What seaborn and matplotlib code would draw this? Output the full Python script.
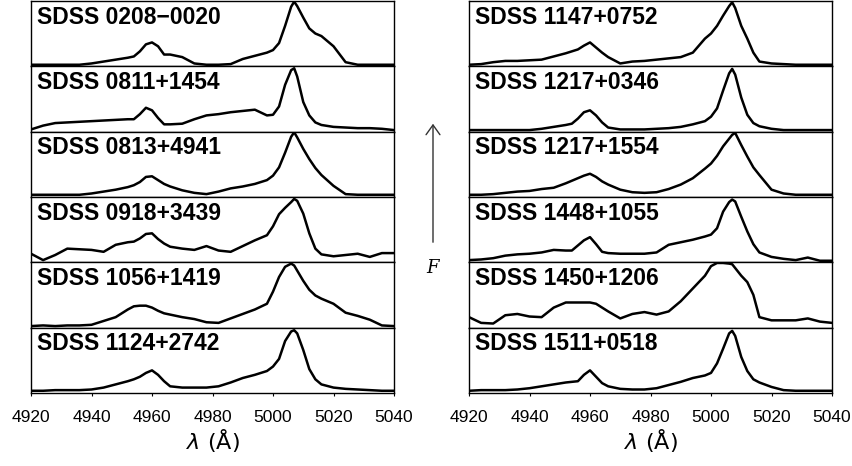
import pandas as pd
import matplotlib
matplotlib.use('Agg')
from matplotlib import pyplot as plt
from matplotlib.patches import FancyArrowPatch
import seaborn as sns

# shared wavelength grid (Angstrom)
wavelength = [4920, 4924, 4928, 4932, 4936, 4940, 4944, 4948, 4952, 4954,
              4956, 4958, 4960, 4962, 4964, 4966, 4970, 4974, 4978, 4982,
              4986, 4990, 4994, 4998, 5000, 5002, 5004, 5006, 5007, 5008,
              5010, 5012, 5014, 5016, 5020, 5024, 5028, 5032, 5036, 5040]

names_left = ["SDSS 0208\u22120020", "SDSS 0811+1454", "SDSS 0813+4941",
              "SDSS 0918+3439", "SDSS 1056+1419", "SDSS 1124+2742"]
names_right = ["SDSS 1147+0752", "SDSS 1217+0346", "SDSS 1217+1554",
               "SDSS 1448+1055", "SDSS 1450+1206", "SDSS 1511+0518"]

# normalised flux, one list per object
flux_0208 = [0.01, 0.01, 0.01, 0.01, 0.01, 0.03, 0.06, 0.09, 0.12, 0.14,
             0.22, 0.33, 0.36, 0.30, 0.17, 0.17, 0.13, 0.03, 0.01, 0.01,
             0.02, 0.10, 0.15, 0.20, 0.24, 0.35, 0.62, 0.92, 1.00, 0.93,
             0.75, 0.58, 0.50, 0.46, 0.30, 0.05, 0.01, 0.01, 0.01, 0.01]
flux_0811 = [0.02, 0.08, 0.12, 0.13, 0.14, 0.15, 0.16, 0.17, 0.18, 0.18,
             0.26, 0.36, 0.32, 0.20, 0.10, 0.10, 0.11, 0.18, 0.24, 0.26,
             0.29, 0.31, 0.33, 0.24, 0.25, 0.38, 0.72, 0.95, 0.98, 0.85,
             0.45, 0.24, 0.13, 0.09, 0.06, 0.05, 0.04, 0.04, 0.03, 0.01]
flux_0813 = [0.02, 0.02, 0.02, 0.02, 0.02, 0.04, 0.07, 0.10, 0.14, 0.17,
             0.22, 0.30, 0.31, 0.25, 0.19, 0.15, 0.09, 0.05, 0.03, 0.07,
             0.12, 0.15, 0.19, 0.25, 0.32, 0.45, 0.68, 0.93, 1.00, 0.92,
             0.74, 0.58, 0.44, 0.33, 0.16, 0.03, 0.02, 0.02, 0.02, 0.02]
flux_0918 = [0.12, 0.02, 0.10, 0.20, 0.19, 0.18, 0.15, 0.26, 0.30, 0.31,
             0.36, 0.43, 0.44, 0.35, 0.28, 0.23, 0.20, 0.18, 0.24, 0.17,
             0.15, 0.24, 0.33, 0.41, 0.55, 0.74, 0.84, 0.93, 0.98, 0.95,
             0.75, 0.44, 0.20, 0.11, 0.08, 0.10, 0.12, 0.07, 0.13, 0.13]
flux_1056 = [0.01, 0.02, 0.01, 0.02, 0.02, 0.03, 0.09, 0.15, 0.27, 0.32,
             0.33, 0.33, 0.30, 0.25, 0.21, 0.19, 0.15, 0.12, 0.07, 0.06,
             0.13, 0.20, 0.27, 0.36, 0.55, 0.78, 0.94, 0.99, 0.96, 0.88,
             0.72, 0.58, 0.49, 0.44, 0.36, 0.22, 0.17, 0.11, 0.02, 0.01]
flux_1124 = [0.02, 0.02, 0.03, 0.03, 0.03, 0.04, 0.07, 0.12, 0.17, 0.20,
             0.24, 0.30, 0.34, 0.27, 0.17, 0.09, 0.07, 0.07, 0.07, 0.09,
             0.15, 0.22, 0.27, 0.33, 0.40, 0.52, 0.80, 0.95, 0.97, 0.92,
             0.66, 0.36, 0.20, 0.12, 0.07, 0.05, 0.04, 0.03, 0.02, 0.02]
flux_1147 = [0.01, 0.02, 0.05, 0.07, 0.07, 0.08, 0.09, 0.14, 0.19, 0.22,
             0.25, 0.31, 0.36, 0.28, 0.20, 0.13, 0.03, 0.06, 0.07, 0.09,
             0.11, 0.13, 0.20, 0.42, 0.50, 0.62, 0.78, 0.93, 0.99, 0.90,
             0.62, 0.42, 0.20, 0.06, 0.03, 0.02, 0.01, 0.01, 0.01, 0.01]
flux_1217a = [0.01, 0.01, 0.01, 0.01, 0.01, 0.01, 0.03, 0.06, 0.09, 0.11,
              0.19, 0.29, 0.32, 0.24, 0.13, 0.05, 0.02, 0.02, 0.02, 0.03,
              0.04, 0.06, 0.10, 0.15, 0.22, 0.35, 0.63, 0.90, 0.97, 0.88,
              0.52, 0.25, 0.12, 0.07, 0.03, 0.01, 0.01, 0.01, 0.01, 0.01]
flux_1217b = [0.02, 0.02, 0.03, 0.05, 0.07, 0.08, 0.11, 0.13, 0.20, 0.24,
              0.28, 0.32, 0.35, 0.30, 0.23, 0.18, 0.10, 0.06, 0.05, 0.06,
              0.11, 0.18, 0.28, 0.43, 0.51, 0.63, 0.78, 0.90, 0.96, 0.99,
              0.80, 0.62, 0.45, 0.33, 0.10, 0.04, 0.02, 0.02, 0.02, 0.02]
flux_1448 = [0.02, 0.03, 0.05, 0.09, 0.11, 0.12, 0.14, 0.18, 0.17, 0.17,
             0.25, 0.33, 0.38, 0.27, 0.15, 0.13, 0.12, 0.12, 0.12, 0.14,
             0.26, 0.30, 0.34, 0.39, 0.42, 0.52, 0.78, 0.93, 0.97, 0.94,
             0.70, 0.47, 0.27, 0.14, 0.07, 0.04, 0.02, 0.06, 0.01, 0.01]
flux_1450 = [0.15, 0.06, 0.05, 0.18, 0.20, 0.16, 0.15, 0.30, 0.38, 0.38,
             0.38, 0.38, 0.38, 0.36, 0.30, 0.24, 0.13, 0.20, 0.23, 0.19,
             0.24, 0.40, 0.60, 0.80, 0.95, 1.00, 1.00, 0.99, 0.98, 0.92,
             0.80, 0.70, 0.50, 0.15, 0.10, 0.10, 0.10, 0.13, 0.08, 0.06]
flux_1511 = [0.02, 0.03, 0.03, 0.03, 0.04, 0.06, 0.09, 0.12, 0.15, 0.16,
             0.17, 0.27, 0.34, 0.24, 0.14, 0.09, 0.05, 0.04, 0.04, 0.06,
             0.11, 0.16, 0.22, 0.26, 0.30, 0.45, 0.68, 0.92, 0.96, 0.88,
             0.55, 0.33, 0.20, 0.15, 0.08, 0.03, 0.02, 0.02, 0.02, 0.02]

fluxes_left = [flux_0208, flux_0811, flux_0813, flux_0918, flux_1056, flux_1124]
fluxes_right = [flux_1147, flux_1217a, flux_1217b, flux_1448, flux_1450, flux_1511]
xticks = [4920, 4940, 4960, 4980, 5000, 5020, 5040]

sns.set_style("white")
plt.rcParams['font.family'] = ['Liberation Sans', 'DejaVu Sans']
plt.rcParams['text.color'] = 'black'
plt.rcParams['xtick.color'] = 'black'
plt.rcParams['axes.labelcolor'] = 'black'

W, H = 852, 466
fig = plt.figure(figsize=(W / 100, H / 100), dpi=100)

panel_w = 363 / W
panel_h = (392 / 6) / H
bottom = 1 - 393 / H

for x0, names, fluxes in [(31 / W, names_left, fluxes_left),
                          (469 / W, names_right, fluxes_right)]:
    for row in range(6):
        ax = fig.add_axes([x0, bottom + (5 - row) * panel_h, panel_w, panel_h])
        df = pd.DataFrame({'wavelength': wavelength, 'flux': fluxes[row]})
        sns.lineplot(data=df, x='wavelength', y='flux', ax=ax,
                     color='black', linewidth=1.8)
        ax.set_xlim(4920, 5040)
        ax.set_ylim(-0.015, 1.01)
        ax.set_xlabel('')
        ax.set_ylabel('')
        ax.set_yticks([])
        for s in ax.spines.values():
            s.set_color('black')
            s.set_linewidth(1.0)
        ax.text(0.016, 0.93, names[row], transform=ax.transAxes,
                ha='left', va='top', fontsize=16.5, fontweight='bold',
                color='black')
        if row == 5:
            ax.set_xticks(xticks)
            ax.tick_params(axis='x', direction='out', length=2, pad=10,
                           labelsize=12.5, bottom=True, color='black')
            ax.set_xlabel(r'$\lambda$ (Å)', fontsize=16, labelpad=2,
                          family=['DejaVu Sans'])
        else:
            ax.set_xticks([])

# flux arrow between the two columns
arrow = FancyArrowPatch((433 / W, 1 - 245 / H), (433 / W, 1 - 121 / H),
                        transform=fig.transFigure,
                        arrowstyle='->,head_length=7,head_width=5',
                        color='#333333', linewidth=1.0)
fig.add_artist(arrow)
fig.text(433 / W, 1 - 268 / H, 'F', ha='center', va='center', fontsize=13,
         style='italic', family=['DejaVu Serif'])

fig.savefig('out.png', dpi=100)
